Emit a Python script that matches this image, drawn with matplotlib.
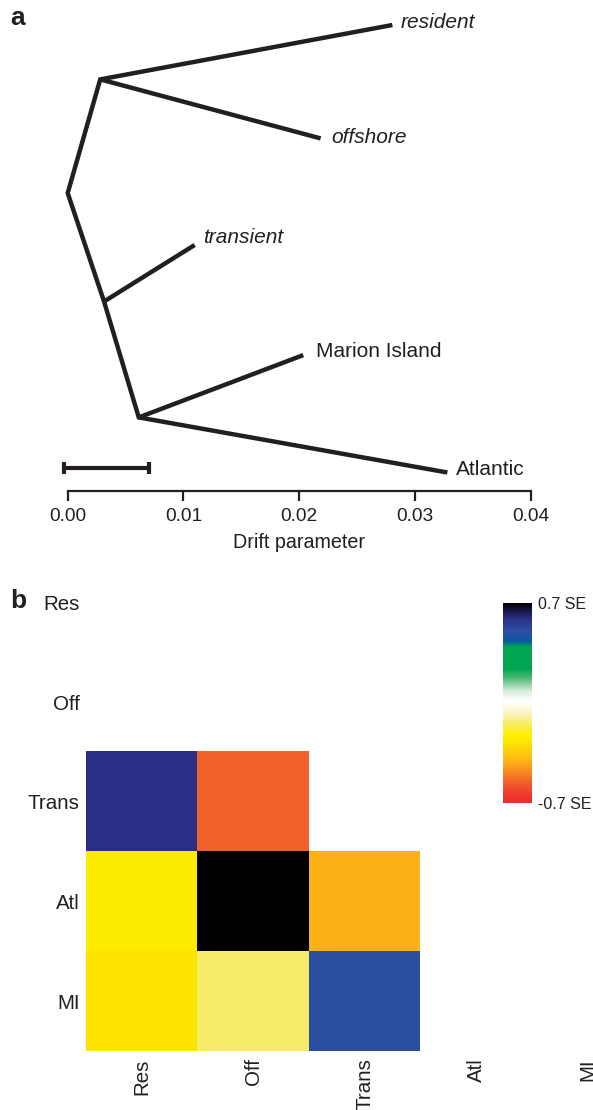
import numpy as np
import matplotlib
matplotlib.use("Agg")
import matplotlib.pyplot as plt
from matplotlib.colors import LinearSegmentedColormap, Normalize

plt.rcParams['font.family'] = ['Liberation Sans', 'DejaVu Sans']
INK = '#231f20'

# ---------------- Panel a: drift tree ----------------
# node name -> (drift parameter, vertical layout position)
node_x = {'root': 0.0, 'A': 0.00281, 'B': 0.00314, 'C': 0.00614,
          'resident': 0.02805, 'offshore': 0.02185, 'transient': 0.01097,
          'Marion Island': 0.02035, 'Atlantic': 0.0328}
node_y = {'root': 193.1, 'A': 79.4, 'B': 301.5, 'C': 417.4,
          'resident': 25.0, 'offshore': 138.4, 'transient': 245.0,
          'Marion Island': 355.1, 'Atlantic': 472.5}
main_path = ['resident', 'A', 'root', 'B', 'C', 'Atlantic']
side_edges = [('A', 'offshore'), ('B', 'transient'), ('C', 'Marion Island')]
tip_labels = ['resident', 'offshore', 'transient', 'Marion Island', 'Atlantic']
italic_tips = ['resident', 'offshore', 'transient']
scale_bar = [-0.0003, 0.0070]
scale_bar_y = 468.3
xticks = [0.00, 0.01, 0.02, 0.03, 0.04]

# ---------------- Panel b: heatmap ----------------
pops = ['Res', 'Off', 'Trans', 'Atl', 'MI']
row_res = [np.nan, np.nan, np.nan, np.nan, np.nan]
row_off = [np.nan, np.nan, np.nan, np.nan, np.nan]
row_trans = [0.59, -0.55, np.nan, np.nan, np.nan]
row_atl = [-0.24, 0.70, -0.41, np.nan, np.nan]
row_mi = [-0.28, -0.14, 0.50, np.nan, np.nan]
vmin, vmax = -0.7, 0.7
cbar_labels = ['-0.7 SE', '0.7 SE']

W, H = 593, 1110
fig = plt.figure(figsize=(W / 100, H / 100), dpi=100)

def rect(x0, y0, x1, y1):
    return [x0 / W, 1 - y1 / H, (x1 - x0) / W, (y1 - y0) / H]

ax = fig.add_axes(rect(67.7, 10, 530.7, 490.7))
ax.set_xlim(0, 0.04)
ax.set_ylim(490.7, 10)
lw = 3.2
ax.plot([node_x[n] for n in main_path], [node_y[n] for n in main_path],
        color=INK, lw=lw, solid_joinstyle='miter', solid_capstyle='butt', clip_on=False)
for a, b in side_edges:
    ax.plot([node_x[a], node_x[b]], [node_y[a], node_y[b]], color=INK, lw=lw,
            solid_capstyle='butt', clip_on=False)
label_offsets = {'resident': (6, 1.5), 'offshore': (8, 1), 'transient': (6, 5.5),
                 'Marion Island': (9, 2.5), 'Atlantic': (6, 2.5)}
for t in tip_labels:
    ax.annotate(t, (node_x[t], node_y[t]), xytext=label_offsets[t], textcoords='offset points',
                ha='left', va='center', fontsize=15, color=INK,
                style='italic' if t in italic_tips else 'normal')
ax.plot(scale_bar, [scale_bar_y, scale_bar_y], color=INK, lw=3.0, clip_on=False,
        marker='|', markersize=8.5, markeredgewidth=3.0, solid_capstyle='butt')

for s in ['top', 'right', 'left']:
    ax.spines[s].set_visible(False)
ax.spines['bottom'].set_linewidth(1.6)
ax.spines['bottom'].set_color(INK)
ax.set_yticks([])
ax.set_xticks(xticks)
ax.set_xticklabels([f'{v:.2f}' for v in xticks])
ax.tick_params(axis='x', direction='out', length=7.5, width=1.6, color=INK,
               labelsize=13.8, labelcolor=INK, pad=5)
ax.set_xlabel('Drift parameter', fontsize=14.2, color=INK, labelpad=6)

fig.text(17.5 / W, 1 - 18 / H, 'a', fontsize=19, fontweight='bold', color=INK,
         ha='center', va='center')

# ---------------- heatmap ----------------
stops = [(0.00, '#ee2a2e'), (0.05, '#ef3b2c'), (0.11, '#f2652a'), (0.21, '#fdb316'),
         (0.30, '#fce500'), (0.34, '#fff000'), (0.40, '#f7ec6a'), (0.45, '#fbf5c6'),
         (0.51, '#ffffff'), (0.56, '#d8eedb'), (0.63, '#45b56d'), (0.67, '#00a651'),
         (0.78, '#00a651'), (0.81, '#0a58a0'), (0.86, '#2c4fa3'), (0.92, '#2b3087'),
         (0.96, '#17174a'), (1.00, '#000000')]
cmap = LinearSegmentedColormap.from_list('se', stops, N=512)
cmap.set_bad((1, 1, 1, 0))
data = np.array([row_res, row_off, row_trans, row_atl, row_mi], dtype=float)

hx = fig.add_axes(rect(86.4, 552.4, 86.4 + 5 * 111.4, 1051.4))
norm = Normalize(vmin=vmin, vmax=vmax)
im = hx.imshow(np.ma.masked_invalid(data), cmap=cmap, norm=norm, aspect='auto',
               interpolation='nearest')
hx.set_xticks(range(len(pops)))
hx.set_xticklabels(pops, rotation=90, fontsize=14.8, color=INK)
hx.set_yticks(range(len(pops)))
hx.set_yticklabels(pops, fontsize=14.8, color=INK)
hx.tick_params(length=0, pad=5)
for s in hx.spines.values():
    s.set_visible(False)

fig.text(18.3 / W, 1 - 601 / H, 'b', fontsize=19, fontweight='bold', color=INK,
         ha='center', va='center')

cax = fig.add_axes(rect(502.7, 603, 532.2, 803.3))
cb = fig.colorbar(im, cax=cax)
cb.outline.set_visible(False)
cb.set_ticks([vmin, vmax])
cb.set_ticklabels(cbar_labels)
cax.tick_params(length=0, pad=4.5, labelsize=11.5, labelcolor=INK)

fig.savefig('out.png', dpi=100)
